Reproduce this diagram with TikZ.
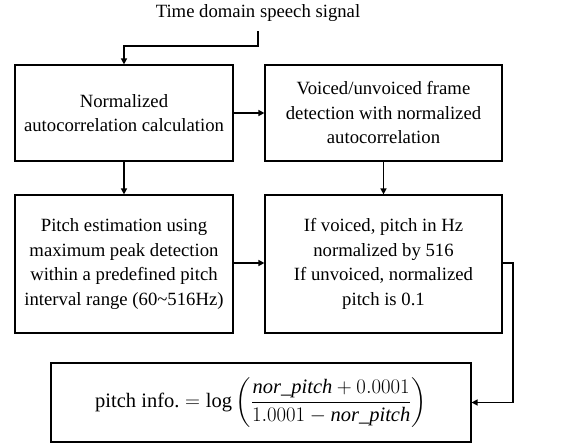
\documentclass[tikz,border=0pt]{standalone}
\usepackage{amsmath}
\usepackage{fontspec}
\setmainfont{Liberation Serif}
\usetikzlibrary{arrows.meta}

\begin{document}
\begin{tikzpicture}[x=1pt, y=-1pt,
  blockbox/.style={draw, line width=1.2pt, align=center, inner sep=0pt,
    font=\fontsize{18.7}{24.5}\selectfont},
  flow/.style={line width=1.6pt, -{Triangle[length=6pt,width=6pt]}}]
  % Fix the page size
  \useasboundingbox (0,0) rectangle (568,443);

  % Input text and blocks
  \node[font=\fontsize{18.7}{24.5}\selectfont] (signal) at (258,13) {Time domain speech signal};
  \node[blockbox, minimum width=218pt, minimum height=96pt] (autocorr) at (124,113)
    {Normalized\\autocorrelation calculation};
  \node[blockbox, minimum width=237pt, minimum height=96pt] (voicing) at (383.5,113)
    {Voiced/unvoiced frame\\detection with normalized\\autocorrelation};
  \node[blockbox, minimum width=218pt, minimum height=138pt] (peak) at (124,264)
    {Pitch estimation using\\maximum peak detection\\within a predefined pitch\\interval range (60\textasciitilde516Hz)};
  \node[blockbox, minimum width=237pt, minimum height=138pt] (normpitch) at (383.5,264)
    {If voiced, pitch in Hz\\normalized by 516\\If unvoiced, normalized\\pitch is 0.1};
  \node[blockbox, minimum width=420pt, minimum height=79pt, font=\fontsize{20.5}{25}\selectfont] (info) at (261,402.5)
    {pitch info.${}=\log\left(\dfrac{\mathit{nor\_pitch}+0.0001}{1.0001-\mathit{nor\_pitch}}\right)$};

  % Connectors
  \coordinate (bend) at (513,263);
  \draw[flow] (signal.south) ++(0,6) -- (258,46) -| (autocorr.north);
  \draw[flow] (autocorr) -- (voicing);
  \draw[flow] (autocorr) -- (peak);
  \draw[flow] (voicing) -- (normpitch);
  \draw[flow] (peak.east |- 0,263) -- (normpitch.west |- 0,263);
  \draw[flow] (normpitch.east |- bend) -- (bend) |- (info.east);
\end{tikzpicture}
\end{document}
